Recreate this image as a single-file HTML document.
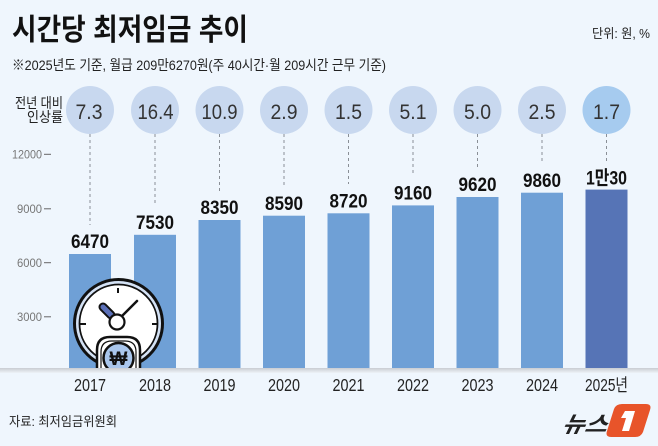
<!DOCTYPE html>
<html><head><meta charset="utf-8"><style>
html,body{margin:0;padding:0;background:#eff6fd;}
svg{display:block;}
.kr{font-family:"Liberation Sans","Noto Sans CJK KR",sans-serif;}
.num{font-family:"Liberation Sans",sans-serif;}
</style></head><body>
<svg width="658" height="446" viewBox="0 0 658 446" xmlns="http://www.w3.org/2000/svg">
<defs>
<linearGradient id="bl" x1="0" y1="0" x2="0" y2="1">
<stop offset="0" stop-color="#c9ccd2"/><stop offset="1" stop-color="#eef3f8"/>
</linearGradient>
<clipPath id="cp"><rect x="0" y="0" width="658" height="369"/></clipPath>
</defs>
<rect width="658" height="446" fill="#eff6fd"/>

<!-- title -->
<text class="kr" x="12" y="40" font-size="30" font-weight="700" fill="#111" textLength="236" lengthAdjust="spacingAndGlyphs">시간당 최저임금 추이</text>
<text class="kr" x="592" y="38" font-size="13" fill="#222" textLength="58" lengthAdjust="spacingAndGlyphs">단위: 원, %</text>
<text class="kr" x="12" y="70" font-size="14" fill="#222" textLength="374" lengthAdjust="spacingAndGlyphs">※2025년도 기준, 월급 209만6270원(주 40시간·월 209시간 근무 기준)</text>

<text class="kr" x="63" y="108" font-size="14" fill="#222" text-anchor="end" textLength="48" lengthAdjust="spacingAndGlyphs">전년 대비</text>
<text class="kr" x="63" y="122" font-size="14" fill="#222" text-anchor="end" textLength="36" lengthAdjust="spacingAndGlyphs">인상률</text>

<!-- y axis -->
<g class="num" font-size="12" fill="#777" text-anchor="end">
<text x="42" y="158.5" textLength="30" lengthAdjust="spacingAndGlyphs">12000</text>
<text x="42" y="213" textLength="25" lengthAdjust="spacingAndGlyphs">9000</text>
<text x="42" y="267" textLength="25" lengthAdjust="spacingAndGlyphs">6000</text>
<text x="42" y="321" textLength="25" lengthAdjust="spacingAndGlyphs">3000</text>
</g>
<g stroke="#666" stroke-width="1">
<line x1="44" y1="154.3" x2="51" y2="154.3"/>
<line x1="44" y1="208.8" x2="51" y2="208.8"/>
<line x1="44" y1="262.7" x2="51" y2="262.7"/>
<line x1="44" y1="316.8" x2="51" y2="316.8"/>
</g>

<!-- dashed lines -->
<g stroke="#8a8f96" stroke-width="1" stroke-dasharray="3,3">
<line x1="90" y1="134" x2="90" y2="225"/>
<line x1="155" y1="134" x2="155" y2="206"/>
<line x1="219.5" y1="134" x2="219.5" y2="191"/>
<line x1="284" y1="134" x2="284" y2="187"/>
<line x1="348.5" y1="134" x2="348.5" y2="184"/>
<line x1="413" y1="134" x2="413" y2="176"/>
<line x1="477.5" y1="134" x2="477.5" y2="168"/>
<line x1="542" y1="134" x2="542" y2="164"/>
<line x1="606.5" y1="134" x2="606.5" y2="161"/>
</g>

<!-- circles -->
<g fill="#c8d8ef">
<circle cx="90" cy="110" r="24"/>
<circle cx="155" cy="110" r="24"/>
<circle cx="219.5" cy="110" r="24"/>
<circle cx="284" cy="110" r="24"/>
<circle cx="348.5" cy="110" r="24"/>
<circle cx="413" cy="110" r="24"/>
<circle cx="477.5" cy="110" r="24"/>
<circle cx="542" cy="110" r="24"/>
<circle cx="606.5" cy="110" r="24" fill="#a6cbef"/>
</g>
<g class="num" font-size="21" fill="#333" text-anchor="middle">
<text x="89" y="119" textLength="27" lengthAdjust="spacingAndGlyphs">7.3</text>
<text x="155.5" y="119" textLength="36" lengthAdjust="spacingAndGlyphs">16.4</text>
<text x="219.5" y="119" textLength="36" lengthAdjust="spacingAndGlyphs">10.9</text>
<text x="284" y="119" textLength="27" lengthAdjust="spacingAndGlyphs">2.9</text>
<text x="348.5" y="119" textLength="27" lengthAdjust="spacingAndGlyphs">1.5</text>
<text x="413" y="119" textLength="27" lengthAdjust="spacingAndGlyphs">5.1</text>
<text x="477.5" y="119" textLength="27" lengthAdjust="spacingAndGlyphs">5.0</text>
<text x="542" y="119" textLength="27" lengthAdjust="spacingAndGlyphs">2.5</text>
<text x="606.5" y="119" textLength="27" lengthAdjust="spacingAndGlyphs">1.7</text>
</g>

<!-- bars -->
<g fill="#6fa0d6">
<rect x="69" y="254" width="42" height="116"/>
<rect x="134" y="234.8" width="42" height="135.2"/>
<rect x="198.5" y="220" width="42" height="150"/>
<rect x="263" y="215.7" width="42" height="154.3"/>
<rect x="327.5" y="213.3" width="42" height="156.7"/>
<rect x="392" y="205.4" width="42" height="164.6"/>
<rect x="456.5" y="197" width="42" height="173"/>
<rect x="521" y="192.7" width="42" height="177.3"/>
<rect x="585.5" y="189.6" width="42" height="180.4" fill="#5674b6"/>
</g>

<!-- value labels -->
<g class="num" font-size="19.5" font-weight="700" fill="#111" text-anchor="middle">
<text x="90" y="248" textLength="38" lengthAdjust="spacingAndGlyphs">6470</text>
<text x="155" y="229" textLength="38" lengthAdjust="spacingAndGlyphs">7530</text>
<text x="219.5" y="214" textLength="38" lengthAdjust="spacingAndGlyphs">8350</text>
<text x="284" y="210" textLength="38" lengthAdjust="spacingAndGlyphs">8590</text>
<text x="348.5" y="207.5" textLength="38" lengthAdjust="spacingAndGlyphs">8720</text>
<text x="413" y="199.5" textLength="38" lengthAdjust="spacingAndGlyphs">9160</text>
<text x="477.5" y="191" textLength="38" lengthAdjust="spacingAndGlyphs">9620</text>
<text x="542" y="187" textLength="38" lengthAdjust="spacingAndGlyphs">9860</text>
</g>
<text class="kr" x="606.5" y="184.5" font-size="19.5" font-weight="700" fill="#111" text-anchor="middle" textLength="41" lengthAdjust="spacingAndGlyphs">1만30</text>

<!-- clock icon -->
<g clip-path="url(#cp)">
<circle cx="118.5" cy="323.5" r="44" fill="#d4e2f5" stroke="#111" stroke-width="3"/>
<circle cx="118.5" cy="323.5" r="39" fill="#ffffff" stroke="#111" stroke-width="1.8"/>
<line x1="118" y1="288" x2="118" y2="293" stroke="#111" stroke-width="2"/>
<line x1="80" y1="324" x2="86" y2="324" stroke="#111" stroke-width="2"/>
<line x1="152" y1="324" x2="158" y2="324" stroke="#111" stroke-width="2"/>
<line x1="111" y1="315" x2="103" y2="307" stroke="#111" stroke-width="9" stroke-linecap="round"/>
<line x1="111" y1="315" x2="103" y2="307" stroke="#5b70b8" stroke-width="5" stroke-linecap="round"/>
<line x1="121" y1="317" x2="137" y2="301" stroke="#111" stroke-width="2.5" stroke-linecap="round"/>
<circle cx="117" cy="322" r="7.5" fill="#fff" stroke="#111" stroke-width="2.2"/>
<path d="M97 380 L97 350 Q97 337 110 337 L127 337 Q140 337 140 350 L140 380 Z" fill="#fff" stroke="#111" stroke-width="2.5"/>
<path d="M101 380 L101 352 Q101 341 112 341 L125 341 Q136 341 136 352 L136 380" fill="none" stroke="#111" stroke-width="1.2"/>
<circle cx="118.5" cy="358" r="15" fill="#a9c6ec" stroke="#111" stroke-width="2.5"/>
<text class="num" x="118.5" y="365" font-size="19" font-weight="700" fill="#111" text-anchor="middle">₩</text>
</g>

<!-- baseline -->
<rect x="0" y="368" width="658" height="5" fill="url(#bl)"/>

<!-- years -->
<g class="num" font-size="17.5" fill="#222" text-anchor="middle">
<text x="90" y="391" textLength="32" lengthAdjust="spacingAndGlyphs">2017</text>
<text x="155" y="391" textLength="32" lengthAdjust="spacingAndGlyphs">2018</text>
<text x="219.5" y="391" textLength="32" lengthAdjust="spacingAndGlyphs">2019</text>
<text x="284" y="391" textLength="32" lengthAdjust="spacingAndGlyphs">2020</text>
<text x="348.5" y="391" textLength="32" lengthAdjust="spacingAndGlyphs">2021</text>
<text x="413" y="391" textLength="32" lengthAdjust="spacingAndGlyphs">2022</text>
<text x="477.5" y="391" textLength="32" lengthAdjust="spacingAndGlyphs">2023</text>
<text x="542" y="391" textLength="32" lengthAdjust="spacingAndGlyphs">2024</text>
</g>
<text class="kr" x="606.5" y="391" font-size="17.5" fill="#222" text-anchor="middle" textLength="43" lengthAdjust="spacingAndGlyphs">2025년</text>

<!-- source -->
<text class="kr" x="9" y="426" font-size="13" fill="#222" textLength="108" lengthAdjust="spacingAndGlyphs">자료: 최저임금위원회</text>

<!-- logo -->
<text class="kr" x="562" y="432" font-size="22" font-weight="700" font-style="italic" fill="#222" textLength="45" lengthAdjust="spacingAndGlyphs" transform="skewX(-12) translate(91,0)">뉴스</text>
<path d="M622 404 L646 404 Q652 404 650 410 L643 432 Q641 437 635 437 L611 437 Q605 437 607 431 L614 409 Q616 404 622 404 Z" fill="#e8542a"/>
<path d="M625 411 L635 411 L629 431 L622 431 L626 418 L621 418 Z" fill="#fff"/>
</svg>
</body></html>
